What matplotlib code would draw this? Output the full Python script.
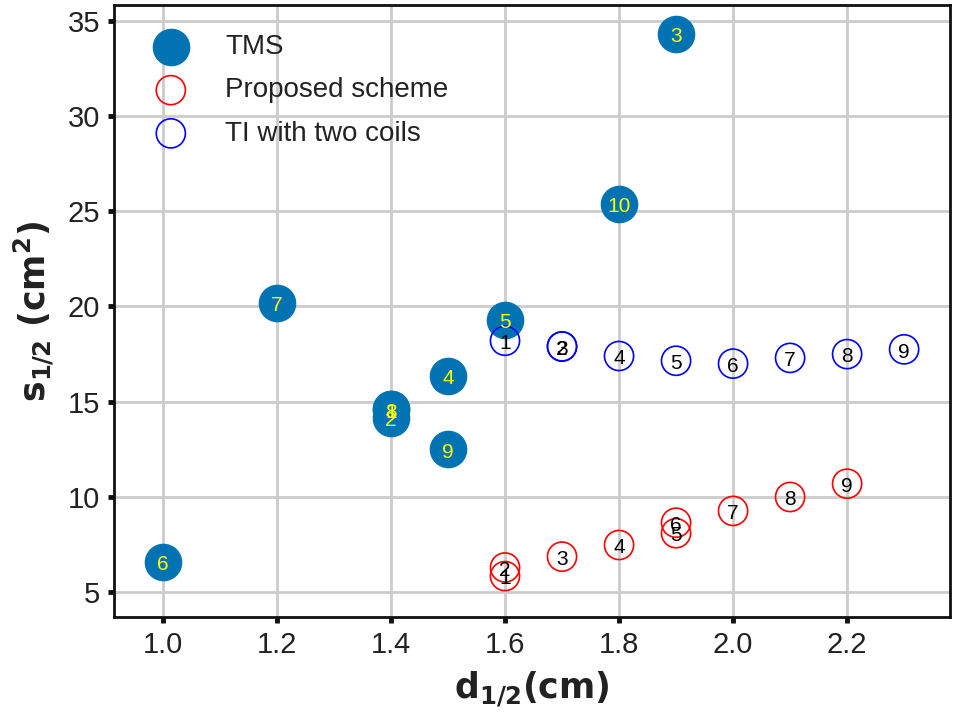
import matplotlib
matplotlib.use("Agg")
import matplotlib.pyplot as plt

# TMS
tms_d = [1.4, 1.4, 1.9, 1.5, 1.6, 1.0, 1.2, 1.4, 1.5, 1.8]
tms_s = [14.6, 14.15, 34.3, 16.35, 19.3, 6.6, 20.2, 14.6, 12.5, 25.4]
tms_id = ["1", "2", "3", "4", "5", "6", "7", "8", "9", "10"]

# Proposed scheme
prop_d = [1.6, 1.6, 1.7, 1.8, 1.9, 1.9, 2.0, 2.1, 2.2]
prop_s = [5.85, 6.3, 6.87, 7.48, 8.1, 8.65, 9.27, 10.0, 10.7]
prop_id = ["1", "2", "3", "4", "5", "6", "7", "8", "9"]

# TI with two coils
ti_d = [1.6, 1.7, 1.7, 1.8, 1.9, 2.0, 2.1, 2.2, 2.3]
ti_s = [18.2, 17.9, 17.9, 17.4, 17.15, 17.0, 17.3, 17.5, 17.75]
ti_id = ["1", "2", "3", "4", "5", "6", "7", "8", "9"]

plt.rcParams['font.family'] = ['Liberation Sans', 'DejaVu Sans']

fig = plt.figure(figsize=(9.57, 7.22), dpi=100)
ax = fig.add_axes([0.119, 0.1454, 0.874, 0.8476])

ax.grid(True, color="#cccccc", linewidth=2.0, zorder=0)
ax.set_axisbelow(True)

ax.scatter(tms_d, tms_s, s=680, color="#0173b2", label="TMS", zorder=3)
ax.scatter(prop_d, prop_s, s=440, facecolors="none", edgecolors="red",
           linewidths=1.2, label="Proposed scheme", zorder=3)
ax.scatter(ti_d, ti_s, s=440, facecolors="none", edgecolors="blue",
           linewidths=1.2, label="TI with two coils", zorder=3)

for x, y, t in zip(tms_d, tms_s, tms_id):
    ax.annotate(t, (x, y), xytext=(0, -2), textcoords="offset points",
                ha="center", va="center", color="yellow", fontsize=15, zorder=4)
for x, y, t in zip(prop_d, prop_s, prop_id):
    ax.annotate(t, (x, y), xytext=(0, -2), textcoords="offset points",
                ha="center", va="center", color="black", fontsize=15, zorder=4)
for x, y, t in zip(ti_d, ti_s, ti_id):
    ax.annotate(t, (x, y), xytext=(0, -2), textcoords="offset points",
                ha="center", va="center", color="black", fontsize=15, zorder=4)

ax.set_xlim(0.914, 2.381)
ax.set_ylim(3.70, 35.82)
ax.set_xticks([1.0, 1.2, 1.4, 1.6, 1.8, 2.0, 2.2])
ax.set_xticklabels(["1.0", "1.2", "1.4", "1.6", "1.8", "2.0", "2.2"])
ax.set_yticks([5, 10, 15, 20, 25, 30, 35])

for sp in ax.spines.values():
    sp.set_color("#111111")
    sp.set_linewidth(2.0)
ax.tick_params(axis="both", direction="out", length=4, width=3.5,
               color="#111111", labelsize=21, labelcolor="#222222", pad=6)

ax.set_xlabel(r"$\mathbf{d_{1/2}(cm)}$", fontsize=25, color="#222222",
              math_fontfamily="dejavusans", labelpad=8)
ax.set_ylabel(r"$\mathbf{s_{1/2}\ (cm^2)}$", fontsize=25, color="#222222",
              math_fontfamily="dejavusans", labelpad=8)

leg = ax.legend(loc="upper left", frameon=False, fontsize=20,
                labelspacing=0.62, handletextpad=0.95, borderaxespad=0.65)
for t in leg.get_texts():
    t.set_color("#222222")

fig.savefig("out.png", dpi=100)
